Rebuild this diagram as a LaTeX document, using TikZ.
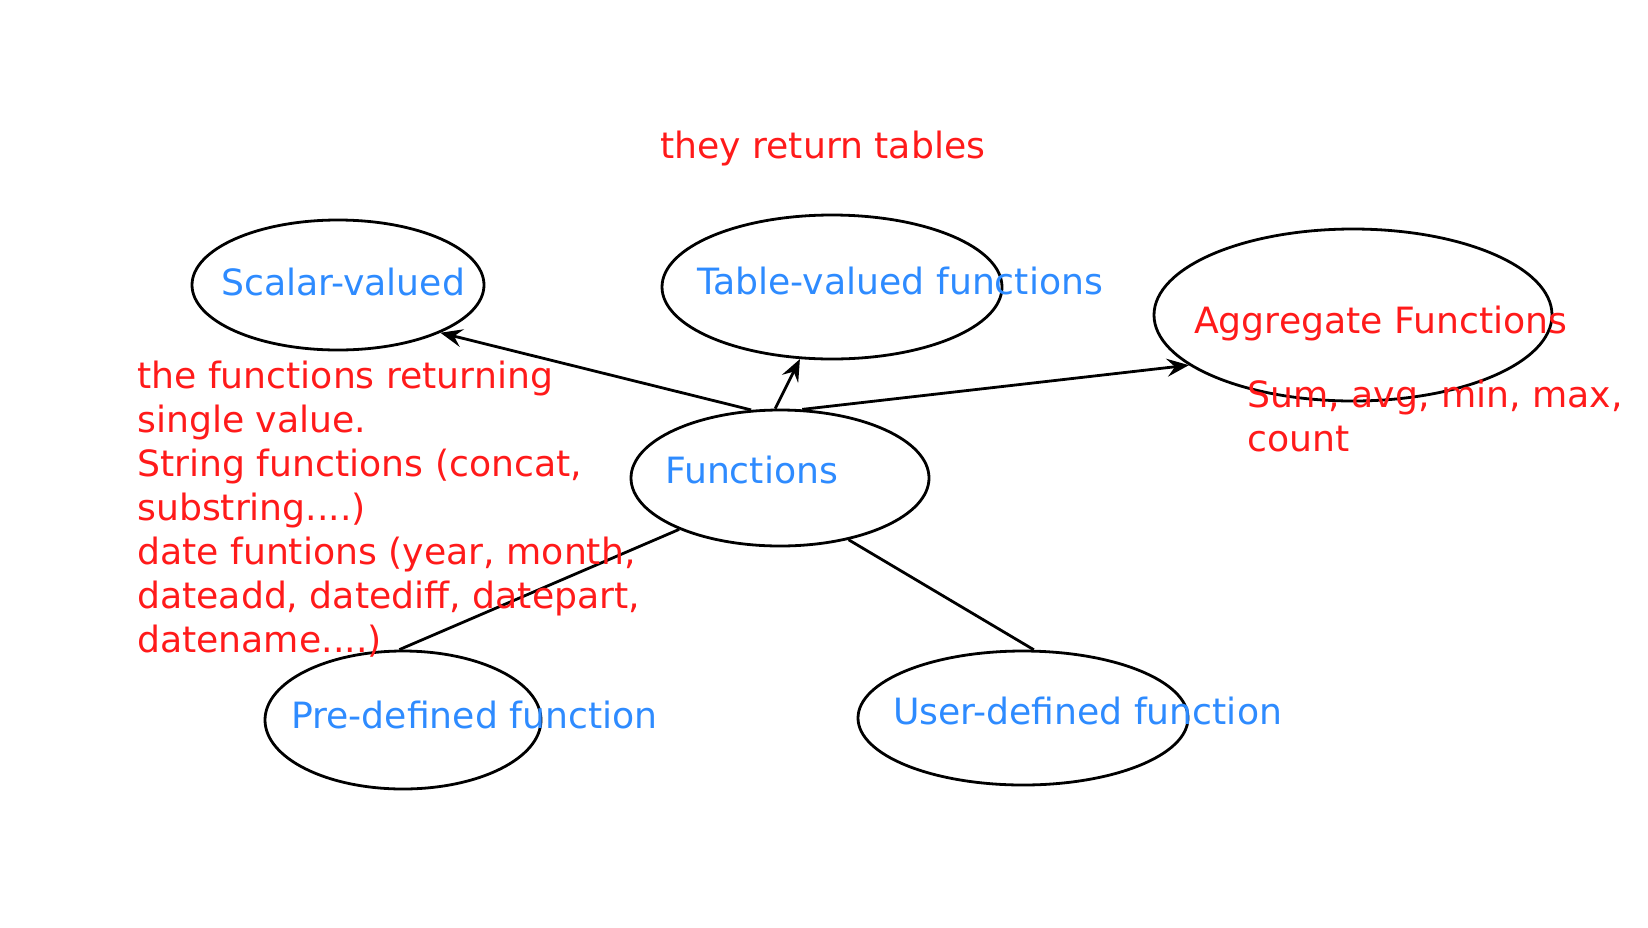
\documentclass[tikz,border=0pt]{standalone}
\usepackage{fontspec}
\setmainfont{DejaVu Sans}
\usepackage{xcolor}
\usetikzlibrary{shapes.geometric, arrows.meta}
\definecolor{notered}{RGB}{255,26,26}
\definecolor{nameblue}{RGB}{46,139,255}

\begin{document}
\begin{tikzpicture}[
    x=1pt, y=-1pt,
    >={Stealth[length=22pt, width=18pt, inset=8pt]},
    font=\fontsize{36.2}{44}\selectfont,
    blob/.style={draw, ellipse, line width=2.8pt, inner sep=0pt},
    name text/.style={text=nameblue, anchor=base west, inner sep=0pt},
    note text/.style={text=notered, inner sep=0pt, align=left},
    link/.style={line width=2.8pt}
]
\useasboundingbox (0,0) rectangle (1648,927);

% --- ELLIPSEN ---
\node[blob, minimum width=292pt, minimum height=130pt] (scalar) at (338,285) {};
\node[blob, minimum width=340pt, minimum height=144pt] (table) at (832,287) {};
\node[blob, minimum width=398pt, minimum height=172pt] (aggr) at (1353,315) {};
\node[blob, minimum width=298pt, minimum height=136pt] (fun) at (780,478) {};
\node[blob, minimum width=276pt, minimum height=138pt] (pre) at (403,720) {};
\node[blob, minimum width=330pt, minimum height=134pt] (user) at (1023,718) {};

% --- VERBINDUNGEN ---
\draw[link, ->] (fun.113.5) -- (scalar.335);
\draw[link, ->] (fun.94) -- (table.246);
\draw[link, ->] (fun.72.6) -- (aggr.197.7);
\draw[link] (fun.207.7) -- (pre.93);
\draw[link] (fun.318) -- (user.81);

% --- BESCHRIFTUNGEN ---
\node[name text] (scalartxt) at (221,295) {Scalar-valued};
\node[name text] (tabletxt) at (697,294) {Table-valued functions};
\node[name text] (funtxt) at (665,483) {Functions};
\node[name text] (pretxt) at (291,728) {Pre-defined function};
\node[name text] (usertxt) at (893,724) {User-defined function};
\node[note text, anchor=base west] (aggrtxt) at (1194,333) {Aggregate Functions};

% --- NOTIZEN ---
\node[note text, anchor=base west] (tablenote) at (660,158) {they return tables};
\node[note text, anchor=north west] (scalarnote) at (137,361)
    {the functions returning\\single value.\\String functions (concat,\\substring....)\\date funtions (year, month,\\dateadd, datediff, datepart,\\datename....)};
\node[note text, anchor=north west] (aggrnote) at (1247,380) {Sum, avg, min, max,\\count};
\end{tikzpicture}
\end{document}
